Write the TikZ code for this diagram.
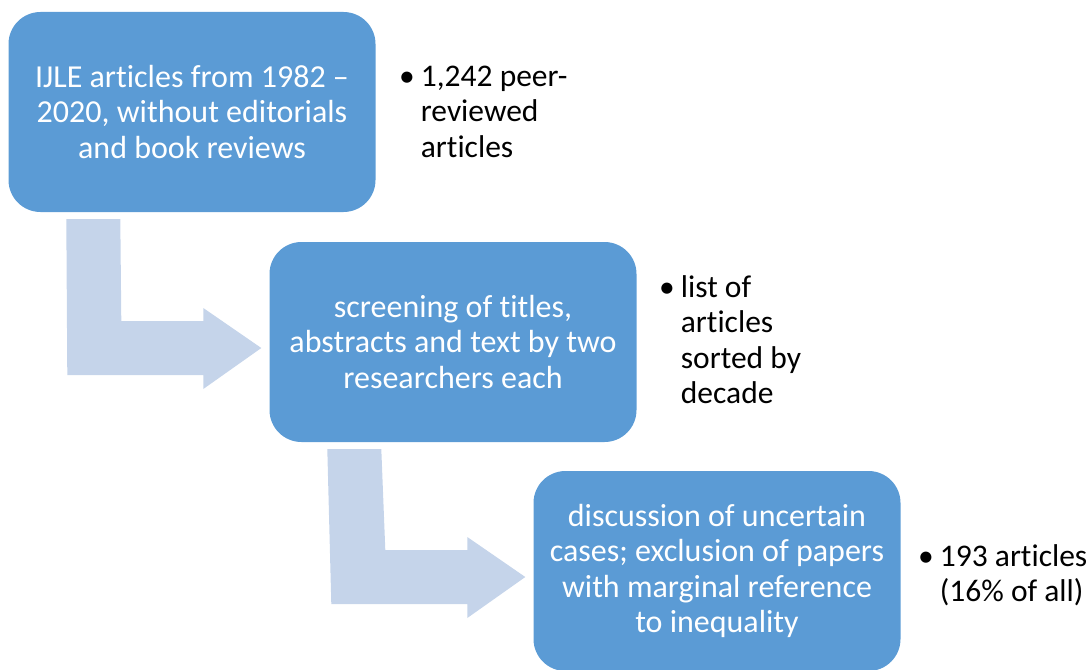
\documentclass[tikz,border=0pt]{standalone}
\usepackage{fontspec}
\setmainfont{Carlito}[Ligatures={NoCommon}]
\usetikzlibrary{calc}
\definecolor{boxblue}{HTML}{5B9BD5}
\definecolor{arrowblue}{HTML}{C5D4EA}
\tikzset{
  stepbox/.style={rectangle, rounded corners=32pt, fill=boxblue, draw=none,
    minimum width=367pt, minimum height=200pt, text=white, align=center,
    font=\fontsize{32}{35.5}\selectfont, inner sep=0pt},
  bullettext/.style={anchor=base west, inner sep=0pt, text=black,
    font=\fontsize{31.5}{35.5}\selectfont},
  bentarrow/.style={fill=arrowblue, draw=none}
}
\newcommand{\bul}[1]{\begin{tabular}[t]{@{}l@{\hspace{6pt}}l@{}}#1\end{tabular}}
\begin{document}
\begin{tikzpicture}[x=1pt,y=-1pt]
\useasboundingbox (0,0) rectangle (1091,669);
\node[stepbox] (b1) at (192,112) {IJLE articles from 1982 –\\2020, without editorials\\and book reviews};
\node[stepbox] (b2) at (453,342) {screening of titles,\\abstracts and text by two\\researchers each};
\node[stepbox] (b3) at (717,571) {discussion of uncertain\\cases; exclusion of papers\\with marginal reference\\to inequality};
% bent arrows
\path[bentarrow] ($(b1.south west)+(58,7)$) -- ($(b1.south west)+(112,7)$)
  -- ($(b2.west)+(-148,-21)$) -- ($(b2.west)+(-66,-21)$) -- ($(b2.west)+(-66,-34)$)
  -- ($(b2.west)+(-8,6)$) -- ($(b2.west)+(-66,47)$) -- ($(b2.west)+(-66,33)$)
  -- ($(b2.west)+(-202,33)$) -- cycle;
\path[bentarrow] ($(b2.south west)+(58,7)$) -- ($(b2.south west)+(112,7)$)
  -- ($(b3.west)+(-148,-21)$) -- ($(b3.west)+(-66,-21)$) -- ($(b3.west)+(-66,-34)$)
  -- ($(b3.west)+(-8,6)$) -- ($(b3.west)+(-66,47)$) -- ($(b3.west)+(-66,33)$)
  -- ($(b3.west)+(-202,33)$) -- cycle;
% bullet texts
\node[bullettext] (t1) at (399,86) {\bul{• & 1,242 peer-\\ & reviewed\\ & articles}};
\node[bullettext] (t2) at (659,297) {\bul{• & list of\\ & articles\\ & sorted by\\ & decade}};
\node[bullettext] (t3) at (918,566) {\bul{• & 193 articles\\ & (16\% of all)}};
\end{tikzpicture}
\end{document}
